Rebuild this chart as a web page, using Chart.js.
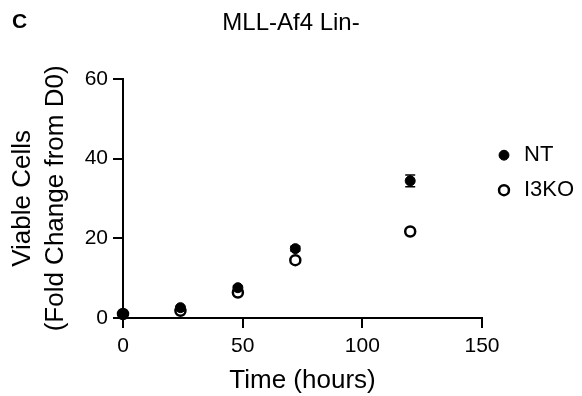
<!DOCTYPE html>
<html>
<head>
<meta charset="utf-8">
<script src="https://cdn.jsdelivr.net/npm/chart.js@4"></script>
<style>
  html, body { margin: 0; padding: 0; background: #fff; }
  #wrap { width: 582px; height: 396px; }
</style>
</head>
<body>
<div id="wrap"><canvas id="growth"></canvas></div>
<script>
(function() {
    const hours = [0, 24, 48, 72, 120];
    const ntValues = [1.0, 2.6, 7.6, 17.4, 34.4];
    const ntErrors = [0.2, 0.3, 0.4, 0.6, 1.5];
    const koValues = [1.0, 1.8, 6.4, 14.5, 21.7];
    const koErrors = [0.1, 0.2, 0.3, 0.4, 0.5];
    const xTicks = [0, 50, 100, 150];
    const yTicks = [0, 20, 40, 60];

    const font = 'Arial, "Liberation Sans", sans-serif';

    const toPoints = (vals) => hours.map((h, i) => ({ x: h, y: vals[i] }));

    // mean +/- SD bars, drawn under the markers
    const errorBars = {
        id: 'errorBars',
        beforeDatasetsDraw(chart) {
            const ctx = chart.ctx;
            const xs = chart.scales.x, ys = chart.scales.y;
            ctx.save();
            ctx.strokeStyle = '#000';
            ctx.lineWidth = 1.5;
            chart.data.datasets.forEach(ds => {
                ds.data.forEach((p, i) => {
                    const e = ds.errors[i];
                    const px = xs.getPixelForValue(p.x);
                    const top = ys.getPixelForValue(p.y + e);
                    const bot = ys.getPixelForValue(p.y - e);
                    ctx.beginPath();
                    ctx.moveTo(px, top); ctx.lineTo(px, bot);
                    ctx.moveTo(px - 5, top); ctx.lineTo(px + 5, top);
                    ctx.moveTo(px - 5, bot); ctx.lineTo(px + 5, bot);
                    ctx.stroke();
                });
            });
            ctx.restore();
        }
    };

    const panelLetter = {
        id: 'panelLetter',
        afterDraw(chart) {
            const ctx = chart.ctx;
            ctx.save();
            ctx.fillStyle = '#000';
            ctx.font = 'bold 21px ' + font;
            ctx.textBaseline = 'alphabetic';
            ctx.fillText('C', 12, 28);
            ctx.restore();
        }
    };

    new Chart(document.getElementById('growth'), {
        type: 'scatter',
        data: {
            datasets: [
                {
                    label: 'NT',
                    data: toPoints(ntValues),
                    errors: ntErrors,
                    pointStyle: 'circle',
                    pointRadius: 5,
                    backgroundColor: '#000',
                    borderColor: '#000',
                    borderWidth: 1,
                    clip: false
                },
                {
                    label: 'I3KO',
                    data: toPoints(koValues),
                    errors: koErrors,
                    pointStyle: 'circle',
                    pointRadius: 5,
                    backgroundColor: '#fff',
                    borderColor: '#000',
                    borderWidth: 2.5,
                    clip: false
                }
            ]
        },
        options: {
            responsive: true,
            maintainAspectRatio: false,
            animation: false,
            layout: { padding: 0 },
            plugins: {
                title: {
                    display: true,
                    text: 'MLL-Af4 Lin-',
                    color: '#000',
                    font: { family: font, size: 24, weight: 'normal', lineHeight: 1.2 },
                    padding: { top: 9, bottom: 41 }
                },
                legend: {
                    position: 'right',
                    align: 'start',
                    fullSize: false,
                    maxWidth: 100,
                    title: { display: true, text: ' ', font: { size: 12 }, padding: { top: 38, bottom: 0 } },
                    labels: {
                        usePointStyle: true,
                        color: '#000',
                        font: { family: font, size: 22 },
                        boxWidth: 18,
                        boxHeight: 7,
                        padding: 13
                    }
                },
                tooltip: { enabled: false }
            },
            scales: {
                x: {
                    type: 'linear',
                    min: 0,
                    max: 150,
                    afterBuildTicks: (s) => { s.ticks = xTicks.map(v => ({ value: v })); },
                    afterFit: (s) => { s.height = 78; },
                    grid: { drawOnChartArea: false, drawTicks: true, tickLength: 10, color: '#000', lineWidth: 2 },
                    border: { color: '#000', width: 2 },
                    ticks: { color: '#000', font: { family: font, size: 21 }, padding: 6, maxRotation: 0 },
                    title: {
                        display: true,
                        text: 'Time (hours)',
                        color: '#000',
                        font: { family: font, size: 26, lineHeight: 1.2 },
                        padding: { top: 0, bottom: 0 }
                    }
                },
                y: {
                    min: 0,
                    max: 60,
                    afterBuildTicks: (s) => { s.ticks = yTicks.map(v => ({ value: v })); },
                    afterFit: (s) => { s.width = 123; },
                    grid: { drawOnChartArea: false, drawTicks: true, tickLength: 10, color: '#000', lineWidth: 2 },
                    border: { color: '#000', width: 2 },
                    ticks: { color: '#000', font: { family: font, size: 21 }, padding: 5 },
                    title: {
                        display: true,
                        text: ['Viable Cells', '(Fold Change from D0)'],
                        color: '#000',
                        font: { family: font, size: 26, lineHeight: 1.27 },
                        padding: { top: 6.5, bottom: 0 }
                    }
                }
            }
        },
        plugins: [errorBars, panelLetter]
    });
})();
</script>
</body>
</html>
